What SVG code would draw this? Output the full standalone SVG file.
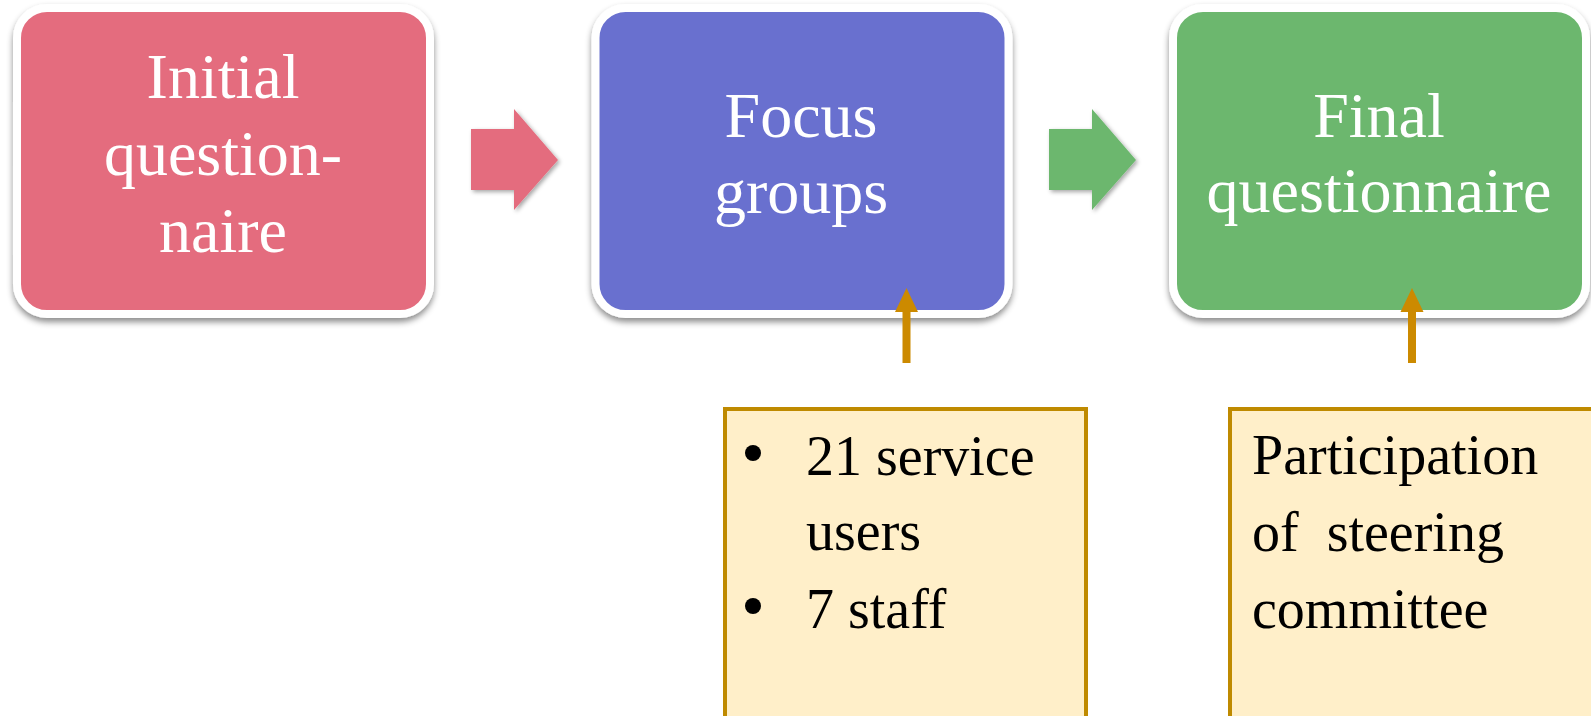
<svg xmlns="http://www.w3.org/2000/svg" width="1591" height="716" viewBox="0 0 1591 716">
<defs>
<filter id="sh" x="-10%" y="-10%" width="120%" height="125%">
<feDropShadow dx="0" dy="4" stdDeviation="3" flood-color="#000" flood-opacity="0.45"/>
</filter>
<filter id="ash" x="-20%" y="-20%" width="140%" height="140%">
<feDropShadow dx="2" dy="2" stdDeviation="2" flood-color="#000" flood-opacity="0.35"/>
</filter>
</defs>
<style>
.box{stroke:#fff;stroke-width:8;filter:url(#sh)}
.wt{font-family:"Liberation Serif",serif;font-size:64px;fill:#fff;text-anchor:middle}
.bt{font-family:"Liberation Serif",serif;font-size:56px;fill:#000;white-space:pre}
.note{fill:#FFEFC9;stroke:#BF8A00;stroke-width:4}
.up{fill:#CC8A00}
</style>
<rect width="1591" height="716" fill="#fff"/>
<g id="n1">
<rect class="box" x="17" y="8" width="413" height="306" rx="30" fill="#E46C7E"/>
<text class="wt" x="223" y="98">Initial</text>
<text class="wt" x="223" y="175">question-</text>
<text class="wt" x="223" y="252">naire</text>
</g>
<g id="n2">
<rect class="box" x="595.5" y="8" width="413" height="306" rx="30" fill="#6970CF"/>
<text class="wt" x="801" y="137">Focus</text>
<text class="wt" x="801" y="213">groups</text>
</g>
<g id="n3">
<rect class="box" x="1173" y="8" width="413" height="306" rx="30" fill="#6CB76E"/>
<text class="wt" x="1379" y="137">Final</text>
<text class="wt" x="1379" y="212">questionnaire</text>
</g>
<g id="n4">
<rect class="note" x="725" y="409" width="361" height="320"/>
<circle cx="753" cy="453" r="8"/>
<circle cx="753" cy="606" r="8"/>
<text class="bt" x="806" y="475">21 service</text>
<text class="bt" x="806" y="550">users</text>
<text class="bt" x="806" y="628">7 staff</text>
</g>
<g id="n5">
<rect class="note" x="1230" y="409" width="380" height="320"/>
<text class="bt" x="1252" y="474">Participation</text>
<text class="bt" x="1252" y="551" xml:space="preserve">of  steering</text>
<text class="bt" x="1252" y="628">committee</text>
</g>
<g id="connectors">
<polygon filter="url(#ash)" fill="#E46C7E" points="471,129 514,129 514,109 558,160 514,210 514,190 471,190"/>
<polygon filter="url(#ash)" fill="#6CB76E" points="1049,129 1092,129 1092,109 1136,160 1092,210 1092,190 1049,190"/>
<polygon class="up" points="902.5,363 910.5,363 910.5,312 918,312 906.5,288 895,312 902.5,312"/>
<polygon class="up" points="1408,363 1416,363 1416,312 1423.5,312 1412,288 1400.5,312 1408,312"/>
</g>
</svg>
